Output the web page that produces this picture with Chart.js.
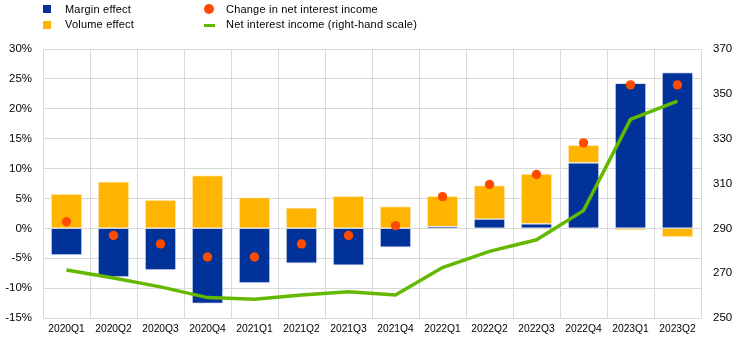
<!DOCTYPE html>
<html>
<head>
<meta charset="utf-8">
<script src="https://cdn.jsdelivr.net/npm/chart.js@4"></script>
<style>
  html, body { margin: 0; padding: 0; background: #fff; }
  #marco { position: relative; width: 748px; height: 350px; font-family: "Liberation Sans", Arial, sans-serif; }
  #grafico { position: absolute; left: 0; top: 0; }
  .ley { position: absolute; font-size: 11px; color: #000; line-height: 13px; white-space: nowrap; letter-spacing: 0.2px; }
  .ley i { position: absolute; display: block; }
</style>
</head>
<body>
<div id="marco">
  <canvas id="grafico" width="748" height="350"></canvas>
  <div class="ley" style="left:43px;top:3px;"><i style="left:0;top:2px;width:8px;height:8px;background:#003299"></i><span style="margin-left:22px">Margin effect</span></div>
  <div class="ley" style="left:43px;top:18px;"><i style="left:0;top:3px;width:8px;height:8px;background:#ffb400"></i><span style="margin-left:22px">Volume effect</span></div>
  <div class="ley" style="left:204px;top:3px;"><i style="left:0;top:1px;width:10px;height:10px;border-radius:50%;background:#ff4b00"></i><span style="margin-left:22px">Change in net interest income</span></div>
  <div class="ley" style="left:204px;top:18px;"><i style="left:0;top:6px;width:11px;height:3px;background:#65b800"></i><span style="margin-left:22px">Net interest income (right-hand scale)</span></div>
</div>
<script>
// Datos (porcentajes y miles de millones)
const TRIMESTRES = ['2020Q1', '2020Q2', '2020Q3', '2020Q4', '2021Q1', '2021Q2', '2021Q3',
  '2021Q4', '2022Q1', '2022Q2', '2022Q3', '2022Q4', '2023Q1', '2023Q2'];
const EFECTO_MARGEN = [-4.5, -8.2, -7.0, -12.6, -9.2, -5.9, -6.2, -3.2, 0.35, 1.6, 0.8, 11.0, 24.3, 26.1];
const EFECTO_VOLUMEN = [5.8, 7.85, 4.8, 8.9, 5.2, 3.5, 5.4, 3.7, 5.05, 5.6, 8.35, 2.95, -0.3, -1.5];
const CAMBIO_INGRESOS = [1.1, -1.2, -2.6, -4.8, -4.8, -2.6, -1.2, 0.45, 5.3, 7.35, 9.0, 14.3, 24.0, 24.0];
const INGRESOS_NETOS = [271.4, 267.8, 263.9, 259.1, 258.4, 260.3, 261.7, 260.3, 272.5, 279.7, 284.9, 297.9, 338.6, 346.8];

const FUENTE = { family: '"Liberation Sans", Arial, sans-serif', size: 11.5 };
const FUENTE_X = { family: '"Liberation Sans", Arial, sans-serif', size: 10.3 };
const GRID = '#d9d9d9';

new Chart(document.getElementById('grafico'), {
  data: {
    labels: TRIMESTRES,
    datasets: [
      {
        type: 'bar', label: 'Margin effect', data: EFECTO_MARGEN, backgroundColor: '#003299',
        borderColor: 'rgba(200,210,235,0.7)', borderWidth: 1, stack: 's', order: 3, yAxisID: 'y',
      },
      {
        type: 'bar', label: 'Volume effect', data: EFECTO_VOLUMEN, backgroundColor: '#ffb400',
        borderColor: 'rgba(255,230,170,0.8)', borderWidth: 1, stack: 's', order: 3, yAxisID: 'y',
      },
      {
        type: 'line', label: 'Change in net interest income', data: CAMBIO_INGRESOS, showLine: false,
        pointRadius: 4.7, pointBackgroundColor: '#ff4b00', pointBorderWidth: 0, order: 1, yAxisID: 'y',
      },
      {
        type: 'line', label: 'Net interest income (right-hand scale)', data: INGRESOS_NETOS,
        borderColor: '#65b800', borderWidth: 3.5, pointRadius: 0, tension: 0, order: 2, yAxisID: 'y2',
      },
    ],
  },
  options: {
    responsive: false,
    animation: false,
    layout: { padding: { top: 49, left: 0, right: 0, bottom: 0 } },
    datasets: { bar: { categoryPercentage: 1, barPercentage: 0.67 } },
    scales: {
      x: {
        stacked: true,
        grid: { color: GRID, drawTicks: false, offset: true },
        border: { color: GRID },
        ticks: { font: FUENTE_X, color: '#000', padding: 5, maxRotation: 0, autoSkip: false },
        afterFit: (s) => { s.height = 32; },
      },
      y: {
        stacked: true,
        position: 'left',
        min: -15, max: 30,
        grid: { color: GRID, drawTicks: false },
        border: { color: GRID },
        ticks: { stepSize: 5, font: FUENTE, color: '#000', padding: 11, callback: (v) => v + '%' },
        afterFit: (s) => { s.width = 43; },
      },
      y2: {
        position: 'right',
        min: 250, max: 370,
        grid: { drawOnChartArea: false, drawTicks: false },
        border: { color: GRID },
        ticks: { stepSize: 20, font: FUENTE, color: '#000', padding: 12 },
        afterFit: (s) => { s.width = 47; },
      },
    },
    plugins: { legend: { display: false }, tooltip: { enabled: false } },
  },
});
</script>
</body>
</html>
